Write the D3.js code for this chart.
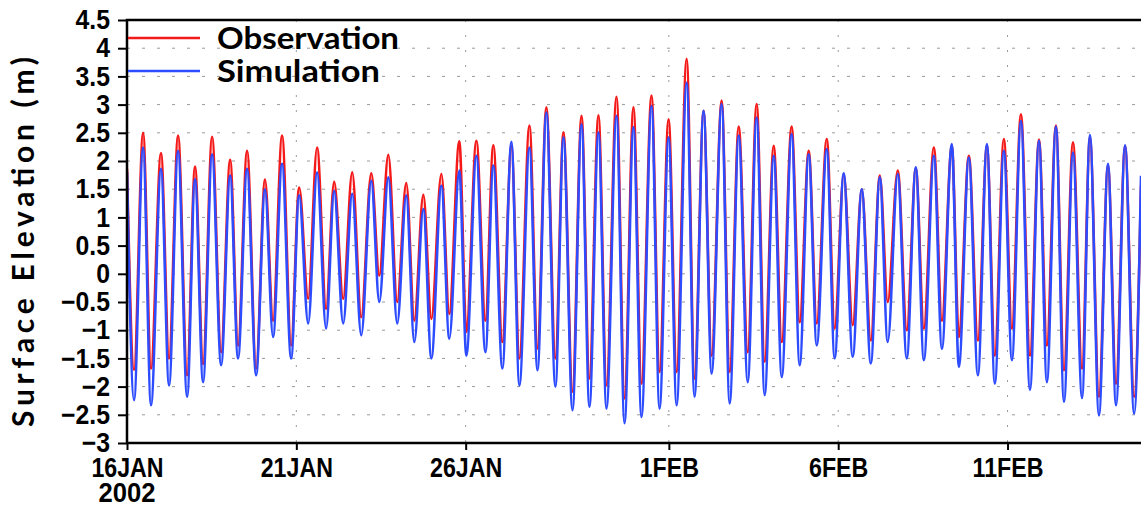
<!DOCTYPE html>
<html>
<head>
<meta charset="utf-8">
<script src="https://cdn.jsdelivr.net/npm/d3@7"></script>
<style>
  body { margin: 0; background: #fff; }
  svg { display: block; }
</style>
</head>
<body>
<div class="canvas"></div>
<script>
// tide extremes, hours after 16JAN2002 00:00
const hours = [0,
  5.0, 11.4, 17.0, 24.1, 29.8, 36.2, 42.6, 48.2, 53.9, 60.3,
  66.7, 73.1, 78.7, 85.1, 91.5, 97.8, 103.5, 109.9, 116.3, 122.0,
  128.4, 134.7, 141.1, 146.8, 153.2, 159.6, 166.0, 173.1, 178.8, 185.2,
  191.5, 197.9, 203.6, 210.0, 215.7, 222.8, 228.4, 235.5, 240.5, 247.6,
  254.0, 259.6, 266.0, 272.4, 278.1, 285.2, 290.9, 297.2, 303.6, 309.3,
  315.7, 322.1, 327.7, 334.1, 339.8, 346.9, 352.6, 358.9, 364.6, 371.7,
  377.4, 383.8, 389.5, 396.6, 402.2, 408.6, 414.3, 421.4, 427.1, 433.5,
  439.9, 446.2, 451.9, 458.3, 464.0, 471.0, 476.7, 483.1, 488.8, 495.9,
  501.5, 507.9, 514.3, 520.7, 527.1, 533.5, 539.1, 546.2, 552.6, 559.0,
  564.7, 571.8, 577.5, 584.5, 589.5, 596.6, 603.0, 609.4, 615.0, 621.4,
  627.1, 633.5, 639.9, 646.3, 651.9, 658.3, 664.0, 670.4, 676.8, 682.4,
  688.8, 695.2, 700.9, 707.3, 713.7, 718.6];

const observation = [1.86,
  -1.70, 2.50, -1.68, 2.14, -1.50, 2.45, -1.80, 1.90, -1.60, 2.43,
  -1.39, 2.02, -1.27, 2.18, -1.68, 1.67, -0.83, 2.45, -1.27, 1.53,
  -0.44, 2.24, -0.62, 1.63, -0.44, 1.80, -0.77, 1.78, -0.03, 2.11,
  -0.50, 1.61, -0.83, 1.40, -0.80, 1.77, -0.71, 2.35, -1.03, 2.36,
  -0.83, 2.28, -1.21, 2.27, -1.50, 2.63, -1.33, 2.95, -1.50, 2.51,
  -2.09, 2.80, -1.86, 2.81, -1.98, 3.14, -2.21, 2.95, -1.95, 3.16,
  -1.74, 2.74, -1.74, 3.81, -1.86, 2.89, -1.45, 3.07, -1.74, 2.61,
  -1.39, 3.01, -1.56, 2.27, -1.21, 2.61, -0.86, 2.18, -0.88, 2.39,
  -0.97, 1.77, -0.91, 1.50, -1.18, 1.74, -0.50, 1.83, -1.00, 1.87,
  -0.97, 2.24, -0.83, 2.27, -1.12, 2.09, -1.18, 2.27, -1.45, 2.39,
  -0.97, 2.83, -1.45, 2.38, -1.27, 2.63, -1.71, 2.33, -1.68, 2.42,
  -2.18, 1.92, -1.95, 2.27, -2.18, 1.56];

const simulation = [1.80,
  -2.24, 2.24, -2.33, 1.86, -1.98, 2.18, -2.18, 1.68, -1.92, 2.12,
  -1.62, 1.74, -1.50, 1.86, -1.80, 1.50, -1.12, 1.95, -1.50, 1.39,
  -0.88, 1.80, -0.97, 1.47, -0.88, 1.42, -1.09, 1.65, -0.50, 1.71,
  -0.88, 1.39, -1.21, 1.15, -1.50, 1.56, -1.15, 1.83, -1.45, 2.09,
  -1.39, 1.92, -1.68, 2.34, -1.98, 2.24, -1.71, 2.86, -2.00, 2.42,
  -2.42, 2.65, -2.36, 2.51, -2.39, 2.80, -2.65, 2.60, -2.54, 2.98,
  -2.39, 2.42, -2.33, 3.39, -2.18, 2.89, -1.77, 3.01, -2.30, 2.45,
  -1.92, 2.77, -2.15, 2.09, -1.83, 2.48, -1.62, 2.12, -1.27, 2.21,
  -1.50, 1.78, -1.47, 1.50, -1.59, 1.71, -1.21, 1.77, -1.50, 1.89,
  -1.53, 2.09, -1.33, 2.30, -1.65, 2.06, -1.80, 2.30, -1.95, 2.18,
  -1.53, 2.71, -2.06, 2.36, -1.92, 2.61, -2.27, 2.15, -2.20, 2.46,
  -2.51, 1.95, -2.33, 2.28, -2.48, 1.74];

const yTickValues = [-3, -2.5, -2, -1.5, -1, -0.5, 0, 0.5, 1, 1.5, 2, 2.5, 3, 3.5, 4, 4.5];
const xTickDays = [16, 21, 26, 32, 37, 42]; // day of Jan 2002 (32 = 1 Feb)
const xTickLabels = ['16JAN', '21JAN', '26JAN', '1FEB', '6FEB', '11FEB'];
const seriesNames = ['Observation', 'Simulation'];
const seriesColors = ['#f41a1a', '#2e4cff'];

const W = 1141, H = 509;
const mLeft = 127, mTop = 20, mBottom = 443, mRight = 1143;
const tickFont = '"Liberation Sans", Arial, sans-serif';

const svg = d3.select('.canvas')
  .append('svg')
  .attr('width', W)
  .attr('height', H);

const start = new Date(2002, 0, 16);
const x = d3.scaleTime()
  .domain([start, new Date(2002, 1, 15)])
  .range([mLeft, mRight]);
const y = d3.scaleLinear()
  .domain([-3, 4.5])
  .range([mBottom, mTop]);

const toPoints = vals => vals.map((v, i) => ({
  date: d3.timeMinute.offset(start, Math.round(hours[i] * 60)),
  value: v
}));
const series = [toPoints(observation), toPoints(simulation)];

// grid
const grid = svg.append('g').attr('stroke', '#9a9a9a').attr('stroke-width', 1);
grid.selectAll('.hgrid')
  .data(yTickValues)
  .join('line')
  .attr('x1', mLeft).attr('x2', mRight)
  .attr('y1', d => y(d)).attr('y2', d => y(d))
  .attr('stroke-dasharray', '3,12');
grid.selectAll('.vgrid')
  .data(xTickDays)
  .join('line')
  .attr('x1', d => x(new Date(2002, 0, d))).attr('x2', d => x(new Date(2002, 0, d)))
  .attr('y1', mTop).attr('y2', mBottom)
  .attr('stroke-dasharray', '2,13');

svg.append('clipPath').attr('id', 'plot')
  .append('rect')
  .attr('x', mLeft).attr('y', mTop)
  .attr('width', mRight - mLeft).attr('height', mBottom - mTop);

const line = d3.line()
  .x(d => x(d.date))
  .y(d => y(d.value))
  .curve(d3.curveMonotoneX);

svg.append('g').attr('clip-path', 'url(#plot)')
  .selectAll('path')
  .data(series)
  .join('path')
  .attr('fill', 'none')
  .attr('stroke', (d, i) => seriesColors[i])
  .attr('stroke-width', 2.6)
  .attr('stroke-linejoin', 'round')
  .attr('d', line);

// axes
const yAxis = svg.append('g')
  .attr('transform', `translate(${mLeft},0)`)
  .call(d3.axisLeft(y).tickValues(yTickValues).tickFormat(d3.format('~g')).tickSize(9).tickPadding(8));
const xAxis = svg.append('g')
  .attr('transform', `translate(0,${mBottom})`)
  .call(d3.axisBottom(x)
    .tickValues(xTickDays.map(d => new Date(2002, 0, d)))
    .tickFormat((d, i) => xTickLabels[i])
    .tickSize(7).tickPadding(8));
[yAxis, xAxis].forEach(a => {
  a.select('.domain').remove();
  a.selectAll('line').attr('stroke', '#000').attr('stroke-width', 2);
  a.selectAll('text')
    .attr('fill', '#000')
    .style('font-family', tickFont)
    .style('font-weight', 'bold')
    .style('font-size', '27px');
});
yAxis.selectAll('text')
  .attr('x', -17 / 0.92)
  .attr('transform', 'scale(0.92,1)');
xAxis.selectAll('text')
  .attr('transform', 'scale(0.86,1)');

svg.append('text')
  .attr('transform', `translate(${x(start)},502) scale(0.95,1)`)
  .attr('text-anchor', 'middle')
  .style('font-family', tickFont)
  .style('font-weight', 'bold')
  .style('font-size', '27px')
  .text('2002');

// frame
svg.append('path')
  .attr('d', `M${mRight + 5},${mTop}H${mLeft}V${mBottom}H${mRight + 5}`)
  .attr('fill', 'none')
  .attr('stroke', '#000')
  .attr('stroke-width', 2.5);

// legend
const legend = svg.append('g');
seriesNames.forEach((name, i) => {
  const ly = 38 + i * 33;
  legend.append('line')
    .attr('x1', 128).attr('x2', 200)
    .attr('y1', ly).attr('y2', ly)
    .attr('stroke', seriesColors[i])
    .attr('stroke-width', 2.4);
  legend.append('text')
    .attr('x', 217).attr('y', ly + 11)
    .attr('textLength', i === 0 ? 182 : 163)
    .attr('lengthAdjust', 'spacingAndGlyphs')
    .style('font-family', 'Lato, "DejaVu Sans", sans-serif')
    .style('font-weight', 'bold')
    .style('font-size', '30px')
    .text(name);
});

svg.append('text')
  .attr('transform', 'translate(34,242) rotate(-90)')
  .attr('text-anchor', 'middle')
  .attr('textLength', 370)
  .attr('lengthAdjust', 'spacing')
  .style('font-family', 'Lato, "DejaVu Sans", sans-serif')
  .style('font-weight', 'bold')
  .style('font-size', '30px')
  .text('Surface Elevation (m)');
</script>
</body>
</html>
